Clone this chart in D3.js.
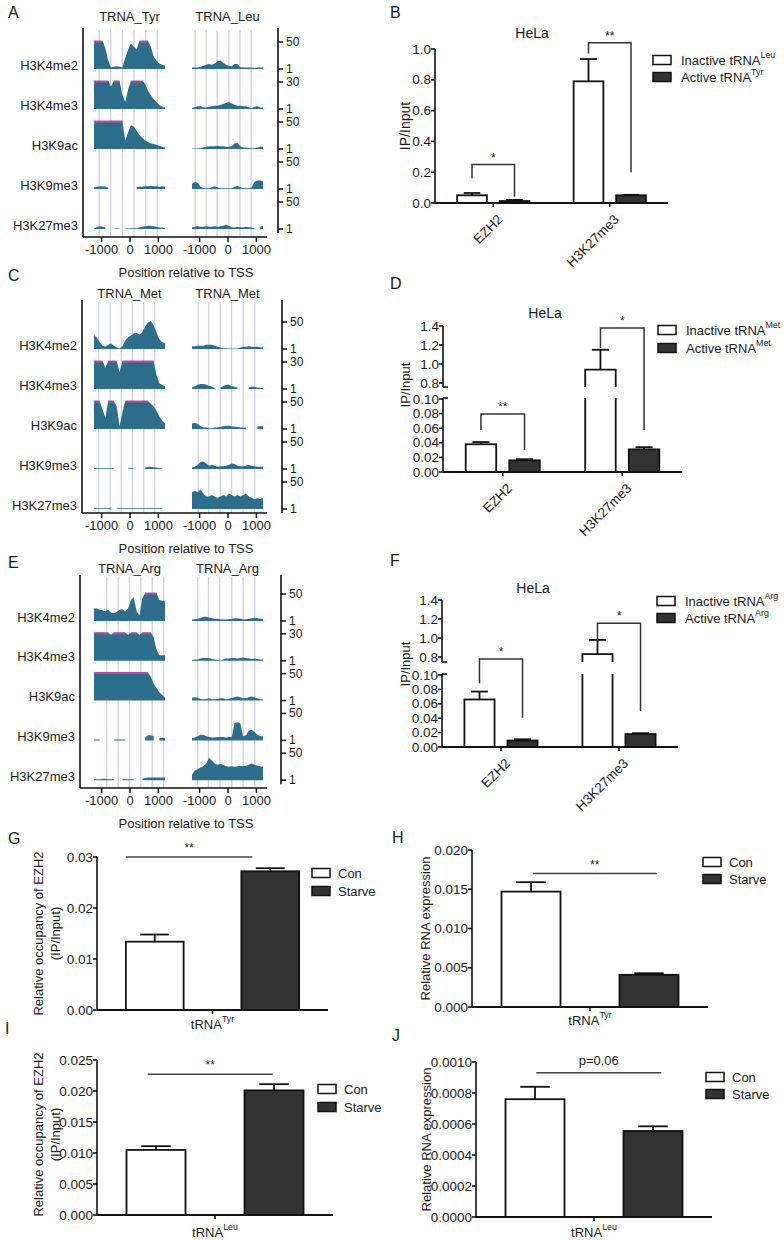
<!DOCTYPE html>
<html><head><meta charset="utf-8">
<script src="https://cdn.jsdelivr.net/npm/d3@7/dist/d3.min.js"></script>
<style>
body{margin:0;background:#fff;}
svg text{font-family:Arial,"Liberation Sans",Helvetica,sans-serif;fill:#1a1a1a;}
</style></head><body>
<svg id="fig" width="784" height="1240" xmlns="http://www.w3.org/2000/svg"></svg>
<script>
const N=null;
// ================= Genome track data (A, C, E) =================
const trackPos=[-1250,-1150,-1050,-950,-850,-750,-650,-550,-450,-350,-250,-150,-50,50,150,250,350,450,550,650,750,850,950,1050,1150,1250];
const markNames=["H3K4me2","H3K4me3","H3K9ac","H3K9me3","H3K27me3"];
const scaleTopLabels=["50","30","50","50","50"];
const scaleBottomLabel="1";
const posTicks=[-1000,0,1000];
const titlesA=["TRNA_Tyr","TRNA_Leu"];
const titlesC=["TRNA_Met","TRNA_Met"];
const titlesE=["TRNA_Arg","TRNA_Arg"];
const gridA_L=[-1070,-660,-250,160,570,980];
const gridA_R=[-1140,-750,-370,50,440,830];
const gridC_L=[-1090,-680,-290,100,500,890];
const gridC_R=[-1030,-660,-260,140,550,960];
const gridE_L=[-800,-400,0,400,800,1200];
const gridE_R=[-1050,-670,-270,150,550,960];

const trackA_Tyr=[
 [1,1,1,1,0.75,0.3,0.05,0.08,0.1,0.08,0.05,0.4,0.7,0.9,0.8,0.7,1,1,1,1,0.8,0.45,0.3,0.2,0.15,0.12],
 [1,1,1,1,1,1,0.8,1,1,1,0.5,0.25,0.7,1,1,1,1,1,0.9,0.65,0.5,0.35,0.25,0.15,0.08,0.05],
 [1,1,1,1,1,1,1,1,1,1,1,0.3,0.6,0.85,0.8,0.65,0.5,0.4,0.3,0.25,0.2,0.18,0.15,0.12,0.08,0.05],
 [0.05,0.08,0.1,0.1,0.08,0.05,N,N,N,N,N,N,N,N,N,0.06,0.08,0.08,0.1,0.1,0.12,0.1,0.1,0.08,0.1,0.08],
 [0.03,0.06,0.1,0.08,0.05,N,N,0.02,0.02,0.02,N,0.02,0.02,0.03,0.03,0.03,0.05,0.08,0.1,0.12,0.12,0.1,0.08,0.05,0.05,0.03]
];
const trackA_Leu=[
 [0.05,0.05,0.05,0.08,0.12,0.15,0.18,0.15,0.2,0.28,0.3,0.22,0.15,0.12,0.1,0.18,0.18,0.06,0.05,0.05,0.05,0.05,0.04,0.05,0.05,0.05],
 [0.03,0.06,0.1,0.1,0.05,0.05,0.08,0.1,0.12,0.12,0.15,0.18,0.22,0.25,0.2,0.15,0.12,0.12,0.1,0.1,0.06,0.03,0.08,0.1,0.05,0.05],
 [0.02,0.02,0.02,0.03,0.05,0.08,0.1,0.1,0.1,0.12,0.1,0.1,0.08,0.08,0.1,0.2,0.22,0.1,0.05,0.05,0.04,0.03,0.03,0.05,0.08,0.08],
 [0.18,0.25,0.22,0.08,0.04,0.03,0.03,0.06,0.1,0.05,0.03,0.03,0.03,0.03,0.03,0.08,0.12,0.06,0.03,0.03,0.03,0.05,0.25,0.3,0.3,0.28],
 [0.05,0.08,0.1,0.08,0.08,0.1,0.08,0.08,0.1,0.08,0.1,0.12,0.15,0.12,0.06,0.05,0.08,0.06,0.05,0.08,0.06,0.05,0.03,N,0.08,0.12]
];
const trackC_Met1=[
 [0.5,0.4,0.25,0.12,0.08,0.15,0.2,0.12,0.05,0.02,0.1,0.3,0.42,0.48,0.55,0.58,0.52,0.6,0.8,0.95,1,0.85,0.6,0.35,0.25,0.2],
 [1,1,1,1,0.75,1,1,1,1,0.6,1,1,1,1,1,1,1,1,1,1,1,1,0.5,0.2,0.15,0.1],
 [1,1,1,0.7,0.4,1,1,1,0.8,0.1,0.6,1,1,1,1,1,1,1,1,1,0.9,0.8,0.65,0.45,0.3,0.2],
 [0.04,0.03,0.03,0.03,0.03,0.03,0.03,0.03,N,N,N,N,0.03,0.03,0.03,N,N,N,0.05,0.08,0.08,0.05,0.05,0.03,0.03,N],
 [0.03,0.03,0.03,0.03,0.03,0.03,0.03,N,0.03,0.03,0.03,0.03,0.03,0.03,0.03,0.03,0.03,0.03,0.03,0.03,0.03,0.03,0.03,0.03,0.03,N]
];
const trackC_Met2=[
 [0.1,0.1,0.12,0.12,0.12,0.15,0.15,0.15,0.12,0.08,0.05,0.03,0.03,0.02,0.02,0.02,0.02,0.05,0.08,0.08,0.1,0.08,0.08,0.08,0.06,0.06],
 [0.05,0.1,0.15,0.18,0.18,0.15,0.12,0.08,0.03,N,0.05,0.1,0.15,0.15,0.1,0.08,0.05,N,N,N,0.05,0.08,0.08,0.05,0.04,0.04],
 [0.2,0.22,0.18,0.1,0.05,0.05,0.03,0.03,0.05,0.05,0.08,0.1,0.12,0.12,0.1,0.08,0.08,0.05,0.05,0.05,N,N,N,0.1,0.1,0.1],
 [0.05,0.08,0.15,0.25,0.28,0.2,0.12,0.15,0.12,0.08,0.1,0.1,0.12,0.15,0.2,0.18,0.12,0.1,0.1,0.12,0.15,0.12,0.1,0.08,0.08,0.08],
 [0.6,0.65,0.6,0.7,0.55,0.45,0.45,0.5,0.45,0.4,0.45,0.5,0.45,0.55,0.5,0.45,0.5,0.45,0.5,0.55,0.45,0.4,0.35,0.38,0.35,0.4]
];
const trackE_Arg1=[
 [0.45,0.45,0.4,0.38,0.35,0.4,0.3,0.28,0.32,0.4,0.42,0.35,0.45,0.75,0.85,0.35,0.2,0.8,1,1,1,1,1,0.75,0.72,0.72],
 [1,1,1,1,1,1,0.93,1,1,1,1,1,0.93,1,1,1,0.93,1,1,1,1,0.85,0.4,0.2,0.2,0.2],
 [1,1,1,1,1,1,1,1,1,1,1,1,1,1,1,1,1,1,1,1,0.85,0.6,0.45,0.3,0.2,0.1],
 [0.03,0.03,0.03,N,N,N,N,0.03,0.03,0.03,0.03,0.03,N,N,N,N,N,N,0.1,0.18,0.18,0.15,N,0.08,0.1,0.08],
 [0.03,0.03,0.03,0.05,0.05,0.03,0.03,0.03,N,N,0.03,0.03,0.03,0.03,0.03,N,N,0.05,0.08,0.1,0.1,0.1,0.1,0.1,0.1,0.1]
];
const trackE_Arg2=[
 [0.05,0.06,0.08,0.1,0.15,0.15,0.12,0.1,0.08,0.08,0.06,0.05,0.05,0.06,0.08,0.1,0.1,0.08,0.06,0.06,0.08,0.1,0.12,0.1,0.08,0.08],
 [0.03,0.05,0.05,0.08,0.1,0.1,0.1,0.06,0.05,0.03,0.02,0.05,0.08,0.08,0.1,0.1,0.08,0.1,0.12,0.1,0.08,0.06,0.08,0.06,0.05,0.05],
 [0.1,0.12,0.1,0.06,0.05,0.06,0.08,0.05,0.05,0.06,0.08,0.08,0.05,0.06,0.1,0.12,0.15,0.12,0.08,0.08,0.12,0.15,0.12,0.08,0.05,0.04],
 [0.08,0.1,0.15,0.2,0.2,0.15,0.12,0.1,0.1,0.12,0.12,0.12,0.1,0.12,0.12,0.62,0.65,0.62,0.15,0.18,0.35,0.38,0.3,0.2,0.15,0.15],
 [0.2,0.35,0.4,0.45,0.5,0.6,0.8,0.7,0.6,0.55,0.58,0.55,0.5,0.48,0.5,0.48,0.5,0.52,0.5,0.52,0.55,0.6,0.55,0.52,0.5,0.48]
];

// ================= Bar chart data (B, D, F) =================
const catsBDF=["EZH2","H3K27me3"];
const legendB=[["Inactive tRNA","Leu"],["Active tRNA","Tyr"]];
const legendD=[["Inactive tRNA","Met"],["Active tRNA","Met"]];
const legendF=[["Inactive tRNA","Arg"],["Active tRNA","Arg"]];
const B_inactive=[0.05,0.79], B_inactiveSem=[0.015,0.145];
const B_active=[0.013,0.05], B_activeSem=[0.007,0.003];
const B_ticks=[0,0.2,0.4,0.6,0.8,1.0];
const B_sigTop=[0.25,1.04], B_sigLeft=[0.16,0.97], B_sigRight=[0.04,0.2], B_sigText=["*","**"];

const D_inactive=[0.038,0.94], D_inactiveSem=[0.003,0.21];
const D_active=[0.016,0.031], D_activeSem=[0.0015,0.003];
const D_ticksLow=[0,0.02,0.04,0.06,0.08,0.10], D_ticksHigh=[0.8,1.0,1.2,1.4];
const D_sigTop=[0.0795,1.38], D_sigLeft=[0.0575,1.168], D_sigRight=[0.03,0.0575], D_sigText=["**","*"];

const F_inactive=[0.066,0.83], F_inactiveSem=[0.011,0.15];
const F_active=[0.009,0.018], F_activeSem=[0.0017,0.0012];
const F_ticksLow=[0,0.02,0.04,0.06,0.08,0.10], F_ticksHigh=[0.8,1.0,1.2,1.4];
const F_sigTop=[0.72,1.155], F_sigLeft=[0.0885,0.979], F_sigRight=[0.0407,0.05], F_sigText=["*","*"];

// ================= Bar chart data (G, H, I, J) =================
const condNames=["Con","Starve"];
const G_vals=[0.0134,0.0272], G_sem=[0.0014,0.0006], G_ticks=[0,0.01,0.02,0.03], G_sigY=0.03, G_sigText="**";
const H_vals=[0.0147,0.0041], H_sem=[0.0012,0.0002], H_ticks=[0,0.005,0.010,0.015,0.020], H_sigY=0.017, H_sigText="**";
const I_vals=[0.0105,0.0201], I_sem=[0.0006,0.001], I_ticks=[0,0.005,0.010,0.015,0.020,0.025], I_sigY=0.0227, I_sigText="**";
const J_vals=[0.00076,0.000555], J_sem=[0.00008,0.00003], J_ticks=[0,0.0002,0.0004,0.0006,0.0008,0.0010], J_sigY=0.00093, J_sigText="p=0.06";

// ================= Drawing =================
const svg=d3.select("#fig");
const TEAL="#2c6e8c", MAG="#b24f9c", GRID="#cfd0e6", INK="#111";
const TH=28;

function addLetter(t,x,y){
  svg.append("text").attr("x",x).attr("y",y).attr("dominant-baseline","central").attr("font-size",16).text(t);
}
function line(g,x1,y1,x2,y2,w,c){
  return g.append("line").attr("x1",x1).attr("y1",y1).attr("x2",x2).attr("y2",y2)
    .attr("stroke",c||INK).attr("stroke-width",w||1.6);
}
function supText(g,x,y,main,sup,fs,anchor){
  const t=g.append("text").attr("x",x).attr("y",y).attr("font-size",fs).attr("dominant-baseline","central");
  if(anchor) t.attr("text-anchor",anchor);
  t.append("tspan").text(main);
  t.append("tspan").attr("font-size",fs*0.68).attr("dy",-fs*0.38).text(sup);
  return t;
}

function genomePanel(p){
  addLetter(p.letter,p.lx,p.ly);
  const g=svg.append("g");
  const sides=[{r:[94,165],d:p.dataL,grid:p.gridL,t:p.titles[0]},{r:[192,263],d:p.dataR,grid:p.gridR,t:p.titles[1]}];
  sides.forEach(s=>{
    const x=d3.scaleLinear().domain([trackPos[0],trackPos[trackPos.length-1]]).range(s.r);
    g.append("text").attr("x",x(0)).attr("y",p.titleY).attr("text-anchor","middle")
      .attr("dominant-baseline","central").attr("font-size",13).text(s.t);
    g.selectAll(null).data(s.grid).enter().append("line")
      .attr("x1",d=>x(d)).attr("x2",d=>x(d)).attr("y1",p.axTop+2).attr("y2",p.axisY)
      .attr("stroke",GRID).attr("stroke-width",1.3);
    s.d.forEach((row,ri)=>{
      const base=p.base0+p.pitch*ri;
      const pts=trackPos.map((pos,i)=>({pos,v:row[i]}));
      g.append("path").attr("fill",TEAL)
        .attr("d",d3.area().defined(d=>d.v!==null).x(d=>x(d.pos)).y0(base).y1(d=>base-d.v*TH)(pts));
      g.append("path").attr("fill","none").attr("stroke",MAG).attr("stroke-width",2)
        .attr("d",d3.line().defined(d=>d.v!==null&&d.v>=1).x(d=>x(d.pos)).y(base-TH+0.5)(pts));
    });
    const ag=g.append("g").attr("transform",`translate(0,${p.axisY})`)
      .call(d3.axisBottom(x).tickValues(posTicks).tickSize(5).tickPadding(3).tickFormat(d=>String(d)));
    ag.attr("font-size",13).attr("font-family",null);
    ag.select(".domain").remove();
    ag.selectAll("line").attr("stroke",INK).attr("stroke-width",1.5);
  });
  markNames.forEach((m,ri)=>{
    const base=p.base0+p.pitch*ri;
    g.append("text").attr("x",p.leftX-5).attr("y",base-4).attr("text-anchor","end")
      .attr("dominant-baseline","central").attr("font-size",13).text(m);
    line(g,p.rightX,base-TH+1,p.rightX+5,base-TH+1,1.5);
    line(g,p.rightX,base,p.rightX+5,base,1.5);
    g.append("text").attr("x",p.rightX+8).attr("y",base-TH+1).attr("dominant-baseline","central").attr("font-size",12).text(scaleTopLabels[ri]);
    g.append("text").attr("x",p.rightX+8).attr("y",base).attr("dominant-baseline","central").attr("font-size",12).text(scaleBottomLabel);
  });
  line(g,p.leftX,p.axTop,p.leftX,p.axisY,1.6);
  line(g,p.leftX,p.axisY,267,p.axisY,1.6);
  line(g,p.rightX,p.axTop,p.rightX,p.base0+p.pitch*4+4,1.6);
  g.append("text").attr("x",186).attr("y",p.axisY+35).attr("text-anchor","middle")
    .attr("dominant-baseline","central").attr("font-size",13).text("Position relative to TSS");
}

function groupedPanel(p){
  addLetter(p.letter,p.lx,p.ly);
  const g=svg.append("g");
  g.append("text").attr("x",p.titleX).attr("y",p.titleY).attr("text-anchor","middle")
    .attr("dominant-baseline","central").attr("font-size",14).text("HeLa");
  const y=d3.scaleLinear().domain(p.yDom).range(p.yRng);
  const x0=d3.scaleBand().domain(catsBDF).range([p.ax0,p.ax1]).paddingInner(0.38).paddingOuter(0.19);
  const x1=d3.scaleBand().domain([0,1]).range([0,x0.bandwidth()]).paddingInner(0.3);
  const bw=x1.bandwidth();
  const series=[{v:p.inact,e:p.inactSem,fill:"#fff"},{v:p.act,e:p.actSem,fill:"#333"}];
  const cxOf=(si,ci)=>x0(catsBDF[ci])+x1(si)+bw/2;
  series.forEach((s,si)=>s.v.forEach((v,ci)=>{
    const bx=x0(catsBDF[ci])+x1(si), cx=bx+bw/2, yT=y(v+s.e[ci]);
    line(g,cx,y(v),cx,yT,1.8);
    line(g,cx-bw*0.28,yT,cx+bw*0.28,yT,1.8);
    if(p.broken && v>p.breakLo){
      const yl=y(p.breakLo)-1, yu=y(p.breakHi)+p.gapPad;
      g.append("rect").attr("x",bx).attr("y",yl).attr("width",bw).attr("height",y(0)-yl).attr("fill",s.fill);
      g.append("path").attr("d",`M${bx},${y(0)}V${yl}M${bx+bw},${y(0)}V${yl}`).attr("fill","none").attr("stroke",INK).attr("stroke-width",1.8);
      g.append("rect").attr("x",bx).attr("y",y(v)).attr("width",bw).attr("height",yu-y(v)).attr("fill",s.fill);
      g.append("path").attr("d",`M${bx},${yu}V${y(v)}H${bx+bw}V${yu}`).attr("fill","none").attr("stroke",INK).attr("stroke-width",1.8);
    } else {
      g.append("rect").attr("x",bx).attr("y",y(v)).attr("width",bw).attr("height",y(0)-y(v))
        .attr("fill",s.fill).attr("stroke",INK).attr("stroke-width",1.8);
    }
  }));
  const tickSets=p.broken?[[p.ticksLow,".2f"],[p.ticksHigh,".1f"]]:[[p.ticks,".1f"]];
  tickSets.forEach(([ts,f])=>ts.forEach(t=>{
    line(g,p.ax0-4,y(t),p.ax0,y(t),1.6);
    g.append("text").attr("x",p.ax0-4).attr("y",y(t)).attr("text-anchor","end")
      .attr("dominant-baseline","central").attr("font-size",13.5).text(d3.format(f)(t));
  }));
  if(p.broken){
    const yl=y(p.breakLo)-1, yu=y(p.breakHi)+p.gapPad;
    line(g,p.ax0,y(0),p.ax0,yl,1.6);
    line(g,p.ax0,yl,p.ax0+5,yl,1.6);
    line(g,p.ax0,yu,p.ax0,y(p.yDom[p.yDom.length-1]),1.6);
    line(g,p.ax0,yu,p.ax0+5,yu,1.6);
  } else line(g,p.ax0,y(0),p.ax0,y(p.yDom[p.yDom.length-1]),1.6);
  line(g,p.ax0,y(0),p.ax1,y(0),1.8);
  catsBDF.forEach(c=>{
    const cx=x0(c)+x0.bandwidth()/2;
    line(g,cx,y(0),cx,y(0)+4,1.6);
    g.append("text").attr("transform",`translate(${cx+7},${y(0)+14}) rotate(-45)`)
      .attr("text-anchor","end").attr("dominant-baseline","central").attr("font-size",13.5).text(c);
  });
  p.sigTop.forEach((t,i)=>{
    const lx=cxOf(0,i), rx=cxOf(1,i);
    g.append("path").attr("d",`M${lx},${y(p.sigLeft[i])}V${y(t)}H${rx}V${y(p.sigRight[i])}`)
      .attr("fill","none").attr("stroke","#333").attr("stroke-width",1.5);
    g.append("text").attr("x",(lx+rx)/2).attr("y",y(t)-3).attr("text-anchor","middle").attr("font-size",12).text(p.sigText[i]);
  });
  p.legend.forEach((l,i)=>{
    g.append("rect").attr("x",p.legX).attr("y",p.legY[i]-4.5).attr("width",18).attr("height",9)
      .attr("fill",i===0?"#fff":"#333").attr("stroke",INK).attr("stroke-width",1.5);
    supText(g,p.legX+28,p.legY[i],l[0],l[1],13);
  });
  g.append("text").attr("transform",`translate(${p.ylabX},${p.ylabY}) rotate(-90)`).attr("text-anchor","middle")
    .attr("dominant-baseline","central").attr("font-size",p.ylabFs).text("IP/Input");
}

function simplePanel(p){
  addLetter(p.letter,p.lx,p.ly);
  const g=svg.append("g");
  const y=d3.scaleLinear().domain([0,p.ticks[p.ticks.length-1]]).range(p.yRng);
  const x=d3.scaleBand().domain(condNames).range([p.ax0,p.ax1]).paddingInner(0.5).paddingOuter(0.25);
  const bw=x.bandwidth();
  condNames.forEach((c,i)=>{
    const bx=x(c), cx=bx+bw/2, v=p.vals[i], yT=y(v+p.sem[i]);
    line(g,cx,y(v),cx,yT,1.8);
    line(g,cx-bw*0.25,yT,cx+bw*0.25,yT,1.8);
    g.append("rect").attr("x",bx).attr("y",y(v)).attr("width",bw).attr("height",y(0)-y(v))
      .attr("fill",i===0?"#fff":"#333").attr("stroke",INK).attr("stroke-width",1.8);
  });
  p.ticks.forEach(t=>{
    line(g,p.ax0-4,y(t),p.ax0,y(t),1.6);
    g.append("text").attr("x",p.ax0-4).attr("y",y(t)).attr("text-anchor","end")
      .attr("dominant-baseline","central").attr("font-size",13.5).text(d3.format(p.fmt)(t));
  });
  line(g,p.ax0,y(0),p.ax0,y(p.ticks[p.ticks.length-1]),1.6);
  line(g,p.ax0,y(0),p.ax1,y(0),1.8);
  const mid=(p.ax0+p.ax1)/2;
  line(g,mid,y(0),mid,y(0)+4,1.6);
  supText(g,mid,y(0)+p.xlabDy,"tRNA",p.sup,13,"middle");
  const sx1=x("Con")+bw*p.sigA, sx2=x("Starve")+bw*p.sigB;
  line(g,sx1,y(p.sigY),sx2,y(p.sigY),1.5,"#444");
  g.append("text").attr("x",(sx1+sx2)/2).attr("y",y(p.sigY)-(p.sigText==="**"?5:12))
    .attr("text-anchor","middle").attr("dominant-baseline",p.sigText==="**"?"auto":"central")
    .attr("font-size",p.sigText==="**"?12:13).text(p.sigText);
  condNames.forEach((c,i)=>{
    g.append("rect").attr("x",p.legX).attr("y",p.legY[i]-4.5).attr("width",18).attr("height",9)
      .attr("fill",i===0?"#fff":"#333").attr("stroke",INK).attr("stroke-width",1.5);
    g.append("text").attr("x",p.legX+26).attr("y",p.legY[i]).attr("dominant-baseline","central").attr("font-size",13).text(c);
  });
  const cy=(y(0)+y(p.ticks[p.ticks.length-1]))/2+p.ylabShift;
  p.ylab.forEach((t,i)=>{
    g.append("text").attr("transform",`translate(${p.ylabX[i]},${cy}) rotate(-90)`).attr("text-anchor","middle")
      .attr("dominant-baseline","central").attr("font-size",13).text(t);
  });
}

genomePanel({letter:"A",lx:8,ly:12,titles:titlesA,titleY:16,axTop:28,axisY:237,base0:69,pitch:40,leftX:83,rightX:278,
  dataL:trackA_Tyr,dataR:trackA_Leu,gridL:gridA_L,gridR:gridA_R});
genomePanel({letter:"C",lx:8,ly:275,titles:titlesC,titleY:293,axTop:300,axisY:513,base0:349,pitch:40,leftX:82,rightX:282,
  dataL:trackC_Met1,dataR:trackC_Met2,gridL:gridC_L,gridR:gridC_R});
genomePanel({letter:"E",lx:8,ly:562,titles:titlesE,titleY:568,axTop:575,axisY:788,base0:621,pitch:39.8,leftX:80,rightX:281,
  dataL:trackE_Arg1,dataR:trackE_Arg2,gridL:gridE_L,gridR:gridE_R});

groupedPanel({letter:"B",lx:390,ly:12,titleX:532,titleY:33,yDom:[0,1],yRng:[203,49],ax0:435,ax1:668,
  inact:B_inactive,inactSem:B_inactiveSem,act:B_active,actSem:B_activeSem,ticks:B_ticks,broken:false,
  sigTop:B_sigTop,sigLeft:B_sigLeft,sigRight:B_sigRight,sigText:B_sigText,legend:legendB,legX:653,legY:[60,77],
  ylabX:405,ylabY:126,ylabFs:14});
groupedPanel({letter:"D",lx:390,ly:283,titleX:545,titleY:313,yDom:[0,0.1,0.8,1.4],yRng:[472,399,383,326],ax0:443,ax1:682,
  inact:D_inactive,inactSem:D_inactiveSem,act:D_active,actSem:D_activeSem,broken:true,breakLo:0.1,breakHi:0.8,gapPad:4,
  ticksLow:D_ticksLow,ticksHigh:D_ticksHigh,
  sigTop:D_sigTop,sigLeft:D_sigLeft,sigRight:D_sigRight,sigText:D_sigText,legend:legendD,legX:658,legY:[330,348],
  ylabX:405,ylabY:385,ylabFs:13});
groupedPanel({letter:"F",lx:390,ly:560,titleX:533,titleY:588,yDom:[0,0.1,0.8,1.4],yRng:[747,675,657,600],ax0:442,ax1:678,
  inact:F_inactive,inactSem:F_inactiveSem,act:F_active,actSem:F_activeSem,broken:true,breakLo:0.1,breakHi:0.8,gapPad:5,
  ticksLow:F_ticksLow,ticksHigh:F_ticksHigh,
  sigTop:F_sigTop,sigLeft:F_sigLeft,sigRight:F_sigRight,sigText:F_sigText,legend:legendF,legX:657,legY:[601,618],
  ylabX:405,ylabY:664,ylabFs:13});

simplePanel({letter:"G",lx:8,ly:838,yRng:[1010,857],ax0:97,ax1:328,vals:G_vals,sem:G_sem,ticks:G_ticks,fmt:".2f",
  sigY:G_sigY,sigText:G_sigText,sigA:0,sigB:0.19,legX:312,legY:[873,891],sup:"Tyr",xlabDy:14,
  ylab:["Relative occupancy of EZH2","(IP/Input)"],ylabX:[38,55],ylabShift:0});
simplePanel({letter:"H",lx:392,ly:837,yRng:[1007,850],ax0:472,ax1:708,vals:H_vals,sem:H_sem,ticks:H_ticks,fmt:".3f",
  sigY:H_sigY,sigText:H_sigText,sigA:0.53,sigB:0.63,legX:703,legY:[862,879],sup:"Tyr",xlabDy:13,
  ylab:["Relative RNA expression"],ylabX:[425],ylabShift:0});
simplePanel({letter:"I",lx:5,ly:1028,yRng:[1215,1060],ax0:97,ax1:333,vals:I_vals,sem:I_sem,ticks:I_ticks,fmt:".3f",
  sigY:I_sigY,sigText:I_sigText,sigA:0.36,sigB:0.48,legX:318,legY:[1089,1107],sup:"Leu",xlabDy:17,
  ylab:["Relative occupancy of EZH2","(IP/Input)"],ylabX:[38,55],ylabShift:-3});
simplePanel({letter:"J",lx:392,ly:1035,yRng:[1217,1062],ax0:476,ax1:712,vals:J_vals,sem:J_sem,ticks:J_ticks,fmt:".4f",
  sigY:J_sigY,sigText:J_sigText,sigA:0.52,sigB:0.64,legX:706,legY:[1077,1094],sup:"Leu",xlabDy:15,
  ylab:["Relative RNA expression"],ylabX:[426],ylabShift:0});
</script></body></html>
